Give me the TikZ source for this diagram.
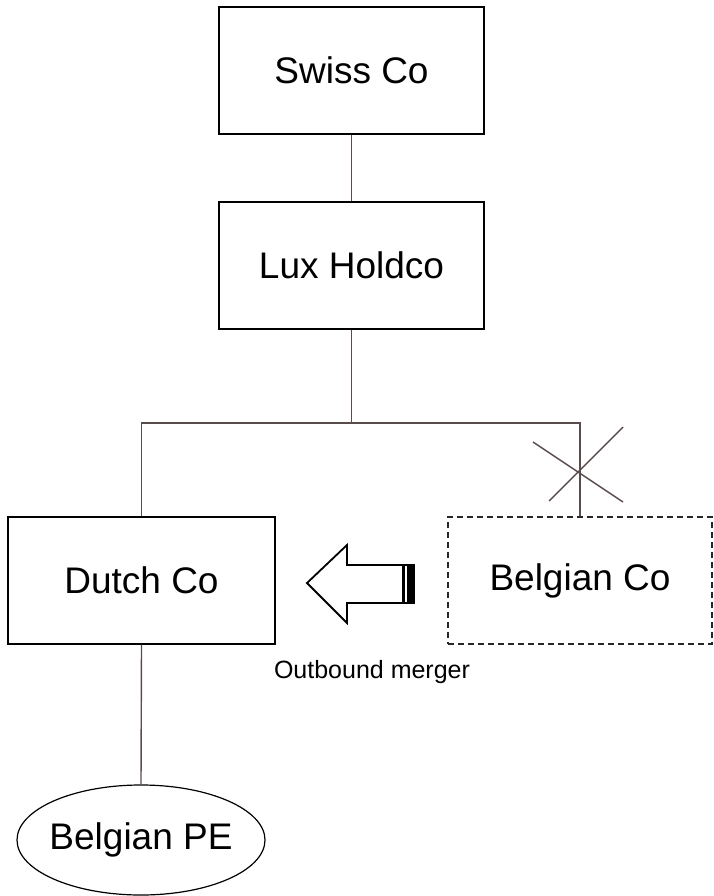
\documentclass[tikz,border=0pt]{standalone}
\usepackage{fontspec}
\setmainfont{Liberation Sans}
\usetikzlibrary{shapes.geometric}
\definecolor{conn}{HTML}{5A4C4C}
\tikzset{
  box/.style={draw=black, line width=1.4pt, rectangle, minimum width=265pt, minimum height=127pt, inner sep=0pt, font=\fontsize{37}{40}\selectfont},
  dbox/.style={box, draw=black!85, dash pattern=on 6pt off 4pt},
  oval/.style={draw=black, line width=1.2pt, ellipse, minimum width=248pt, minimum height=110pt, inner xsep=-6pt, inner ysep=0pt, font=\fontsize{37}{40}\selectfont},
  conn/.style={draw=conn, line width=1.4pt},
  lbl/.style={font=\fontsize{25}{28}\selectfont, inner sep=0pt}
}
\begin{document}
\begin{tikzpicture}[x=1pt,y=-1pt]
\useasboundingbox (0,0) rectangle (714,896);
\node[box] (swiss) at (351.5,70.5) {Swiss Co};
\node[box] (lux) at (351.5,265.5) {Lux Holdco};
\node[box, minimum width=267pt] (dutch) at (141.5,580.5) {Dutch Co};
\node[dbox, minimum width=264pt] (belg) at (580,580.5) {Belgian Co};
\node[oval] (pe) at (141,840) {Belgian PE};
\coordinate (hl) at (143,423);
\draw[conn] (swiss.south) -- (lux.north);
\draw[conn] (lux.south) -- (lux.south |- hl);
\draw[conn] (dutch.north) -- (dutch.north |- hl) -| (belg.north);
\draw[conn] (dutch.south) -- (pe.north);
% cross
\coordinate (x1a) at (533,442);
\coordinate (x1b) at (623,502);
\coordinate (x2a) at (549,501);
\coordinate (x2b) at (623,427);
\draw[conn] (x1a) -- (x1b);
\draw[conn] (x2a) -- (x2b);
% block arrow
\draw[line width=1.8pt, line join=miter] (307,583) -- (347,545) -- (347,565) -- (414,565) -- (414,603) -- (347,603) -- (347,623) -- cycle;
\fill (401.5,564) rectangle (405,604);
\fill (407,564) rectangle (415,604);
\node[lbl] (om) at (372,672) {Outbound merger};
\end{tikzpicture}
\end{document}
